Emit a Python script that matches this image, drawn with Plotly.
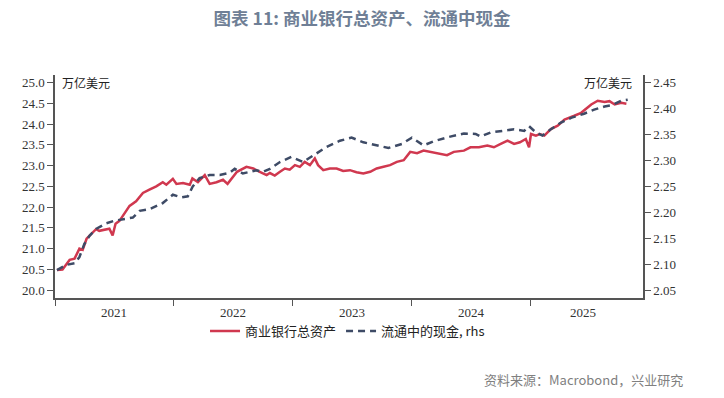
import plotly.graph_objects as go

# 商业银行总资产 (万亿美元, left axis)
assets_dates = [
    "2021-01-07","2021-01-24","2021-02-15","2021-03-02","2021-03-17","2021-03-27","2021-04-08","2021-04-22",
    "2021-05-07","2021-05-17","2021-06-02","2021-06-17","2021-06-27","2021-07-06","2021-07-18","2021-08-02",
    "2021-08-18","2021-09-07","2021-09-28","2021-10-18","2021-11-08","2021-11-28","2021-12-09","2021-12-29",
    "2022-01-09","2022-01-29","2022-02-19","2022-02-27","2022-03-16","2022-04-06","2022-04-21","2022-05-12",
    "2022-06-01","2022-06-15","2022-06-28","2022-07-14","2022-08-12","2022-09-02","2022-09-22","2022-10-13",
    "2022-10-23","2022-11-07","2022-11-23","2022-12-08","2022-12-23","2023-01-08","2023-01-23","2023-02-07",
    "2023-02-23","2023-03-10","2023-03-20","2023-04-05","2023-04-25","2023-05-16","2023-06-05","2023-06-26",
    "2023-07-16","2023-08-06","2023-08-27","2023-09-16","2023-10-07","2023-10-27","2023-11-17","2023-12-08",
    "2023-12-28","2024-01-18","2024-02-07","2024-02-28","2024-03-30","2024-04-19","2024-05-10","2024-06-10",
    "2024-06-30","2024-07-26","2024-08-21","2024-09-10","2024-10-01","2024-10-22","2024-11-11","2024-11-29",
    "2024-12-17","2024-12-27","2025-01-02","2025-01-17","2025-01-29","2025-02-12","2025-03-04","2025-03-25",
    "2025-04-15","2025-04-30","2025-05-15","2025-06-05","2025-06-25","2025-07-06","2025-07-26","2025-08-16",
    "2025-08-31","2025-09-16","2025-10-06","2025-10-22",
]
assets_values = [
    20.49,20.50,20.73,20.76,21.00,20.97,21.24,21.35,
    21.47,21.43,21.45,21.48,21.32,21.60,21.67,21.83,
    22.03,22.14,22.34,22.42,22.50,22.60,22.54,22.68,
    22.56,22.58,22.54,22.69,22.60,22.77,22.56,22.60,
    22.66,22.56,22.69,22.85,22.97,22.93,22.85,22.77,
    22.82,22.76,22.85,22.93,22.90,23.01,22.97,23.09,
    23.01,23.17,23.01,22.89,22.93,22.93,22.87,22.89,
    22.84,22.81,22.85,22.93,22.97,23.01,23.09,23.13,
    23.33,23.30,23.36,23.33,23.29,23.25,23.33,23.36,
    23.44,23.44,23.48,23.44,23.52,23.60,23.52,23.56,
    23.64,23.44,23.76,23.72,23.76,23.72,23.88,23.96,
    24.11,24.15,24.20,24.27,24.39,24.47,24.56,24.53,
    24.55,24.47,24.51,24.49,
]

# 流通中的现金 (万亿美元, right axis)
cash_dates = [
    "2021-01-07","2021-02-05","2021-03-02","2021-03-17","2021-04-01","2021-04-17","2021-05-07","2021-06-07",
    "2021-07-03","2021-07-28","2021-08-28","2021-09-18","2021-10-18","2021-11-28","2021-12-29","2022-01-24",
    "2022-02-13","2022-02-28","2022-03-21","2022-04-21","2022-05-22","2022-06-21","2022-07-07","2022-08-01",
    "2022-09-11","2022-10-02","2022-10-23","2022-11-23","2022-12-28","2023-02-02","2023-03-15","2023-04-15",
    "2023-05-26","2023-07-01","2023-08-06","2023-09-16","2023-10-22","2023-12-03","2024-01-02","2024-02-07",
    "2024-03-09","2024-04-29","2024-06-10","2024-07-16","2024-07-31","2024-08-31","2024-10-11","2024-11-11",
    "2024-12-12","2024-12-27","2025-01-17","2025-02-06","2025-03-04","2025-04-04","2025-05-05","2025-06-14",
    "2025-07-15","2025-08-16","2025-09-10","2025-10-06","2025-10-26",
]
cash_values = [
    2.089,2.099,2.102,2.114,2.139,2.155,2.168,2.179,
    2.184,2.187,2.190,2.203,2.206,2.218,2.234,2.229,
    2.231,2.250,2.266,2.272,2.272,2.276,2.284,2.275,
    2.281,2.278,2.284,2.297,2.307,2.297,2.313,2.326,
    2.338,2.344,2.335,2.329,2.324,2.332,2.344,2.329,
    2.337,2.346,2.352,2.351,2.346,2.354,2.358,2.360,
    2.357,2.366,2.354,2.348,2.360,2.373,2.382,2.390,
    2.398,2.404,2.407,2.415,2.417,
]

year_ticks = ["2021-01-01","2022-01-01","2023-01-01","2024-01-01","2025-01-01"]
year_labels = ["2021","2022","2023","2024","2025"]
year_label_pos = ["2021-07-02","2022-07-02","2023-07-02","2024-07-02","2025-06-12"]
x_range = ["2021-01-01","2025-12-12"]
left_ticks = [20.0,20.5,21.0,21.5,22.0,22.5,23.0,23.5,24.0,24.5,25.0]
right_ticks = [2.05,2.10,2.15,2.20,2.25,2.30,2.35,2.40,2.45]

RED = "#d0384f"
BLUE = "#3e4b66"
AXIS = "#555555"
TICKFONT = dict(family="Liberation Serif", size=13, color="#333333")
CJK = "Noto Sans CJK SC"

fig = go.Figure()
fig.add_trace(go.Scatter(x=assets_dates, y=assets_values, mode="lines", name="商业银行总资产",
                         line=dict(color=RED, width=2.5), yaxis="y"))
fig.add_trace(go.Scatter(x=cash_dates, y=cash_values, mode="lines", name="流通中的现金, rhs",
                         line=dict(color=BLUE, width=2.5, dash="7px,5px"), yaxis="y2"))

for pos, lab in zip(year_label_pos, year_labels):
    fig.add_annotation(x=pos, y=0, xref="x", yref="paper", text=lab, showarrow=False,
                       yanchor="middle", yshift=-14, font=TICKFONT)

fig.add_annotation(x=0, y=25.0, xref="paper", yref="y", xanchor="left", yanchor="middle",
                   xshift=5, text="万亿美元", showarrow=False,
                   font=dict(family=CJK, size=12, color="#222222"))
fig.add_annotation(x=1, y=25.0, xref="paper", yref="y", xanchor="right", yanchor="middle",
                   xshift=-9, text="万亿美元", showarrow=False,
                   font=dict(family=CJK, size=12, color="#222222"))

fig.add_annotation(x=0, y=0, xref="paper", yref="paper", xanchor="left", yanchor="middle",
                   text="资料来源：Macrobond，兴业研究", showarrow=False,
                   xshift=427, yshift=-81,
                   font=dict(family=CJK, size=13, color="#808080"))

fig.update_layout(
    width=724, height=398,
    margin=dict(l=55, r=81, t=75, b=96),
    paper_bgcolor="white", plot_bgcolor="white",
    title=dict(text="<b>图表 11: 商业银行总资产、流通中现金</b>", x=0.5, xanchor="center",
               y=0.952, yanchor="middle",
               font=dict(family=CJK, size=17.5, color="#6f7f96")),
    showlegend=True,
    legend=dict(orientation="h", xref="container", yref="container",
                x=0.48, xanchor="center", y=0.168, yanchor="middle",
                font=dict(family=CJK, size=13, color="#222222"),
                itemwidth=30, tracegroupgap=0),
    xaxis=dict(type="date", range=x_range, tickvals=year_ticks, ticktext=[""] * len(year_ticks),
               ticks="outside", ticklen=6, tickcolor=AXIS, showgrid=False, zeroline=False,
               showline=True, linecolor=AXIS, linewidth=1.5),
    yaxis=dict(range=[19.81, 25.18], tickvals=left_ticks, ticktext=[f"{v:.1f}" for v in left_ticks],
               ticks="outside", ticklen=6, tickcolor=AXIS, showgrid=False, zeroline=False,
               showline=True, linecolor=AXIS, linewidth=1.5, tickfont=TICKFONT),
    yaxis2=dict(range=[2.0349, 2.4646], tickvals=right_ticks, ticktext=[f"{v:.2f}" for v in right_ticks],
                overlaying="y", side="right", ticks="outside", ticklen=6, tickcolor=AXIS,
                showgrid=False, zeroline=False, showline=True, linecolor=AXIS, linewidth=1.5,
                tickfont=TICKFONT),
)

fig.write_html("out.html", config={"displayModeBar": False},
               post_script="document.body.style.margin='0px';")
